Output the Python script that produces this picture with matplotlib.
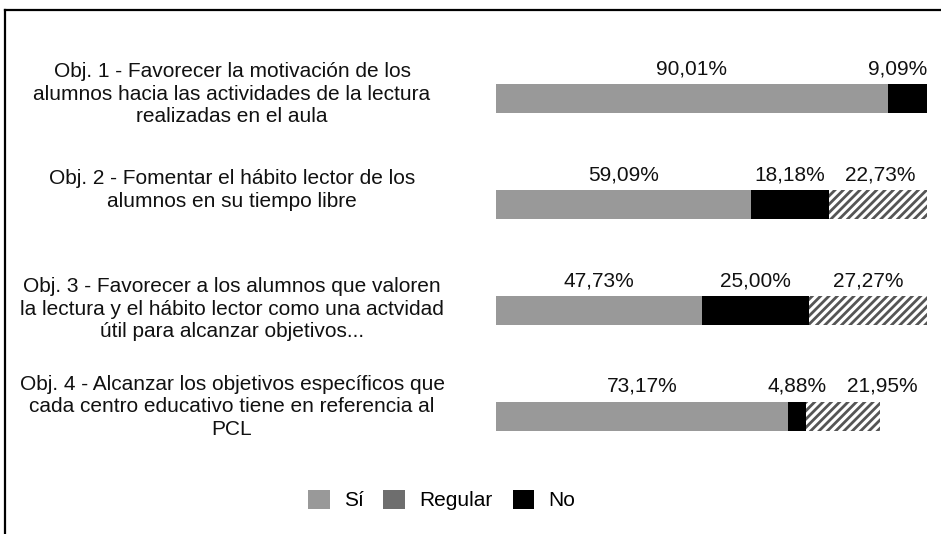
import matplotlib
matplotlib.use("Agg")
import matplotlib.pyplot as plt
from matplotlib.patches import Patch
from matplotlib.lines import Line2D
import matplotlib.transforms as mtransforms

plt.rcParams['font.family'] = ['Liberation Sans', 'DejaVu Sans']
plt.rcParams['hatch.linewidth'] = 2.0

# ---- data ----
categories = [
    "Obj. 1 - Favorecer la motivación de los\nalumnos hacia las actividades de la lectura\nrealizadas en el aula",
    "Obj. 2 - Fomentar el hábito lector de los\nalumnos en su tiempo libre\n",
    "Obj. 3 - Favorecer a los alumnos que valoren\nla lectura y el hábito lector como una actvidad\nútil para alcanzar objetivos...",
    "Obj. 4 - Alcanzar los objetivos específicos que\ncada centro educativo tiene en referencia al\nPCL",
]
# bar segment lengths as drawn (percent of the full bar)
seg1 = [90.91, 59.09, 47.73, 67.75]
seg2 = [9.09, 18.18, 25.00, 4.18]
seg3 = [0.00, 22.73, 27.27, 17.17]
# printed labels
lab1 = ["90,01%", "59,09%", "47,73%", "73,17%"]
lab2 = ["9,09%", "18,18%", "25,00%", "4,88%"]
lab3 = ["", "22,73%", "27,27%", "21,95%"]
legend_labels = ["Sí", "Regular", "No"]

c_si = "#999999"
c_reg = "#6e6e6e"
c_no = "#000000"
hatch_col = "#555555"

W, H = 941, 534
fig = plt.figure(figsize=(W / 100, H / 100), dpi=100)
ax = fig.add_axes([496 / W, 1 - 469.2 / H, 431 / W, (469.2 - 45.4) / H])

y = list(range(len(categories)))
bh = 0.274
ax.barh(y, seg1, height=bh, color=c_si, linewidth=0)
left2 = seg1
ax.barh(y, seg2, left=left2, height=bh, color=c_no, linewidth=0)
left3 = [a + b for a, b in zip(seg1, seg2)]
ax.barh(y, seg3, left=left3, height=bh, facecolor="white", edgecolor=hatch_col,
        hatch="////", linewidth=0)

ax.set_xlim(0, 100)
ax.set_ylim(3.5, -0.5)
ax.axis("off")

# category labels
ytrans = mtransforms.blended_transform_factory(fig.transFigure, ax.transData)
offs = [-0.34, -0.33, -0.31, -0.39]
for i, cat in enumerate(categories):
    fig.text(232 / W, i + offs[i], cat, transform=ytrans, ha="center", va="top",
             fontsize=15, linespacing=1.22, color="#111111")

# value labels
toff = mtransforms.offset_copy(ax.transData, fig=fig, y=7.0, units="points")
fig.canvas.draw()
renderer = fig.canvas.get_renderer()
ax_right = ax.transData.transform((100, 0))[0]
gap = 20
for i in y:
    segs = [(seg1[i], 0, lab1[i]), (seg2[i], left2[i], lab2[i]), (seg3[i], left3[i], lab3[i])]
    texts = []
    for v, l, lab in segs:
        if v <= 0 or not lab:
            continue
        t = ax.text(l + v / 2, i - bh / 2, lab, transform=toff, ha="center",
                    va="baseline", fontsize=15, color="#111111")
        texts.append(t)
    ext = [t.get_window_extent(renderer) for t in texts]
    cx = [(e.x0 + e.x1) / 2 for e in ext]
    wd = [e.width for e in ext]
    for k in range(1, len(cx)):
        minc = cx[k - 1] + wd[k - 1] / 2 + gap + wd[k] / 2
        if cx[k] < minc:
            cx[k] = minc
    over = cx[-1] + wd[-1] / 2 - ax_right
    if over > 0:
        cx[-1] -= over
        for k in range(len(cx) - 2, -1, -1):
            maxc = cx[k + 1] - wd[k + 1] / 2 - gap - wd[k] / 2
            if cx[k] > maxc:
                cx[k] = maxc
    inv = ax.transData.inverted()
    for t, c in zip(texts, cx):
        xd = inv.transform((c, 0))[0]
        t.set_x(xd)

# legend
handles = [Patch(facecolor=c_si, linewidth=0), Patch(facecolor=c_reg, linewidth=0),
           Patch(facecolor=c_no, linewidth=0)]
fig.legend(handles, legend_labels, loc="center", bbox_to_anchor=(441.5 / W, 1 - 500 / H),
           ncol=3, frameon=False, fontsize=15, handlelength=1.05, handleheight=1.05,
           handletextpad=0.67, columnspacing=0.96, borderpad=0, borderaxespad=0)

# partial frame
fig.add_artist(Line2D([4.5 / W, 1.0], [1 - 10 / H, 1 - 10 / H], color="black", lw=1.6,
                      transform=fig.transFigure))
fig.add_artist(Line2D([5 / W, 5 / W], [1 - 10 / H, 0], color="black", lw=1.6,
                      transform=fig.transFigure))

fig.savefig("out.png", dpi=100)
